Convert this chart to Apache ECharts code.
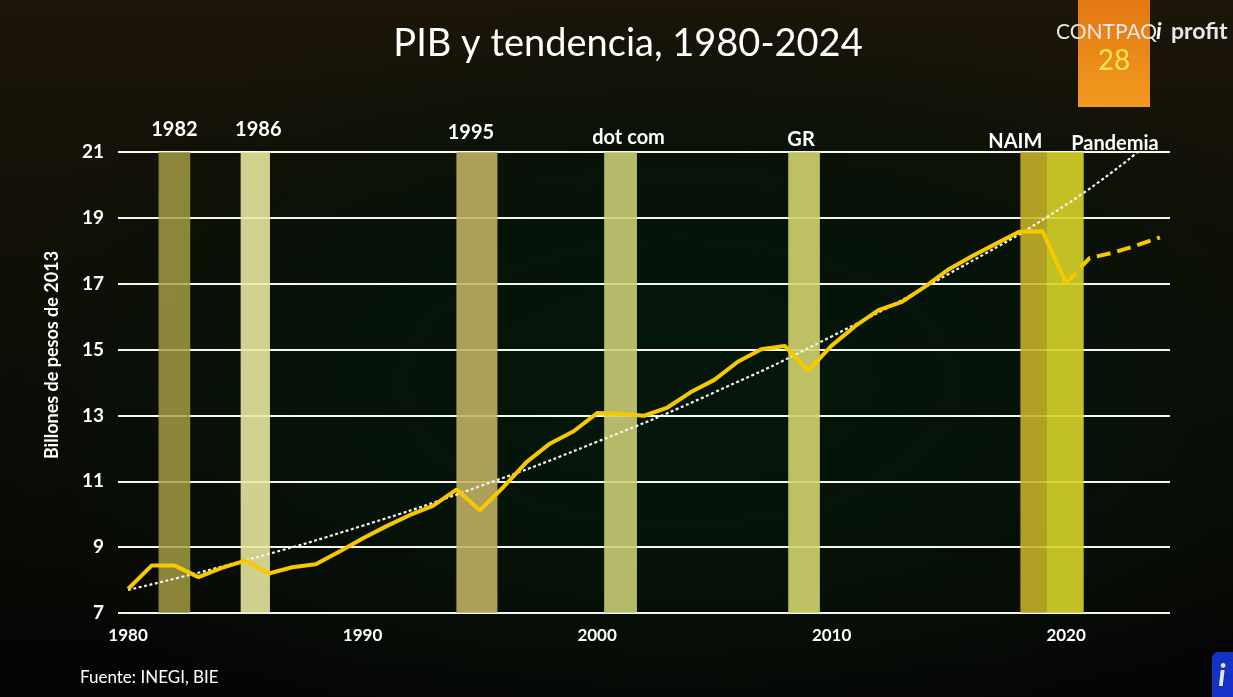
<!DOCTYPE html>
<html>
<head>
<meta charset="utf-8">
<script src="https://cdn.jsdelivr.net/npm/echarts@6/dist/echarts.min.js"></script>
<style>
html,body{margin:0;padding:0;width:1233px;height:697px;overflow:hidden;}
body{background:
 radial-gradient(ellipse 60% 55% at 55% 55%, #04170a 0%, #061309 45%, rgba(10,12,6,0) 100%),
 linear-gradient(180deg,#1c1508 0%,#131007 30%,#0a0a05 70%,#050404 100%);}
#c{width:1233px;height:697px;}
</style>
</head>
<body>
<div id="c"></div>
<script>
// ---- data ----
const years = [1980,1981,1982,1983,1984,1985,1986,1987,1988,1989,1990,1991,1992,1993,1994,1995,1996,1997,1998,1999,2000,2001,2002,2003,2004,2005,2006,2007,2008,2009,2010,2011,2012,2013,2014,2015,2016,2017,2018,2019,2020];
const pib = [7.73,8.44,8.44,8.09,8.37,8.59,8.20,8.39,8.48,8.86,9.26,9.63,9.97,10.25,10.75,10.12,10.82,11.59,12.15,12.52,13.07,13.05,12.99,13.24,13.71,14.08,14.63,15.01,15.11,14.35,15.12,15.71,16.20,16.45,16.92,17.44,17.84,18.21,18.58,18.59,17.01];
const projYears = [2020,2021,2022,2023,2024];
const projPib = [17.01,17.78,17.94,18.16,18.41];
const trendYears = [1980,1985,1990,1995,2000,2005,2010,2015,2020,2023.4];
const trendVals = [7.70,8.60,9.65,10.85,12.20,13.70,15.40,17.30,19.40,21.20];
const bandLabels = ['1982','1986','1995','dot com','GR','NAIM','Pandemia'];
const bandStart = [1981.3,1984.8,1994.0,2000.3,2008.15,2018.05,2019.15];
const bandEnd   = [1982.65,1986.05,1995.75,2001.7,2009.5,2019.15,2020.75];
const xTickLabels = [1980,1990,2000,2010,2020];

// ---- styling ----
const bandColors = ['rgba(168,160,70,0.82)','rgba(236,236,160,0.88)','rgba(196,180,100,0.88)','rgba(206,208,120,0.88)','rgba(210,212,110,0.9)','rgba(200,180,40,0.88)','rgba(214,212,40,0.9)'];
const labelOffsets = [[0,-2],[3,-2],[-6,1],[8,6],[-3,8],[-18,10],[50,12]];
const FONT = 'Lato, "Open Sans", sans-serif';

const chart = echarts.init(document.getElementById('c'), null, {renderer:'canvas'});
const bandData = bandLabels.map((n,i)=>[
  {name:n, xAxis:bandStart[i], yAxis:21, itemStyle:{color:bandColors[i]},
   label:{offset:labelOffsets[i]}},
  {xAxis:bandEnd[i], yAxis:7}
]);

chart.setOption({
  backgroundColor:'transparent',
  animation:false,
  title:{text:'PIB y tendencia, 1980-2024', left:623, top:20, textAlign:'center',
    textStyle:{color:'#ffffff', fontSize:38, fontWeight:'normal', fontFamily:FONT}},
  grid:{left:118, right:63, top:152, bottom:84},
  xAxis:{type:'value', min:1979.57, max:2024.43,
    axisLine:{show:false}, axisTick:{show:false}, splitLine:{show:false},
    axisLabel:{customValues:xTickLabels, formatter:v=>String(v), color:'#ffffff', fontSize:17, fontWeight:'bold', fontFamily:FONT, margin:14}},
  yAxis:{type:'value', min:7, max:21, interval:2,
    axisLine:{show:false}, axisTick:{show:false},
    splitLine:{lineStyle:{color:'#f4f4f0', width:2}},
    axisLabel:{color:'#ffffff', fontSize:19, fontWeight:'bold', fontFamily:FONT, margin:14}},
  series:[
    {type:'line', name:'bands', data:[], silent:true, z:1,
     markArea:{silent:true, data:bandData,
       label:{show:true, position:'top', distance:10, color:'#ffffff', fontSize:20, fontWeight:'bold', fontFamily:FONT}}},
    {type:'line', name:'tendencia', data:trendYears.map((y,i)=>[y,trendVals[i]]), smooth:true, symbol:'none', z:3,
     lineStyle:{color:'#f6f6ee', width:2.2, type:[3,2.5]}},
    {type:'line', name:'PIB', data:years.map((y,i)=>[y,pib[i]]), symbol:'none', z:4,
     lineStyle:{color:'#f7c800', width:4}},
    {type:'line', name:'proy', data:projYears.map((y,i)=>[y,projPib[i]]), symbol:'none', z:4,
     lineStyle:{color:'#f7c800', width:4, type:[14,7]}}
  ],
  graphic:[
    {type:'text', left:80, top:669, style:{text:'Fuente: INEGI, BIE', fill:'#ffffff', font:'17px '+FONT}},
    {type:'text', x:52, y:355, rotation:Math.PI/2, style:{text:'Billones de pesos de 2013', fill:'#ffffff', font:'bold 18px '+FONT, align:'center', verticalAlign:'middle'}},
    {type:'rect', shape:{x:1078, y:0, width:72, height:107},
     style:{fill:new echarts.graphic.LinearGradient(0,0,0,1,[{offset:0,color:'#e27812'},{offset:1,color:'#f29a20'}])}, z:0},
    {type:'text', x:1056, y:32, style:{text:'CONTPAQ', fill:'#e8e8e8', font:'21px '+FONT, verticalAlign:'middle'}},
    {type:'text', x:1156, y:32, style:{text:'i', fill:'#ffffff', font:'italic bold 23px '+FONT, verticalAlign:'middle'}},
    {type:'text', x:1171, y:32, style:{text:'profit', fill:'#e8e8ec', font:'bold 23px '+FONT, verticalAlign:'middle'}},
    {type:'text', x:1114, y:61, style:{text:'28', fill:'#f6e84a', font:'28px '+FONT, align:'center', verticalAlign:'middle'}},
    {type:'rect', shape:{x:1212, y:652, width:30, height:50, r:6}, style:{fill:'#1432c8'}},
    {type:'text', x:1222, y:676, style:{text:'i', fill:'#e8e8d0', font:'italic bold 30px '+FONT, align:'center', verticalAlign:'middle'}}
  ]
});
</script>
</body>
</html>
